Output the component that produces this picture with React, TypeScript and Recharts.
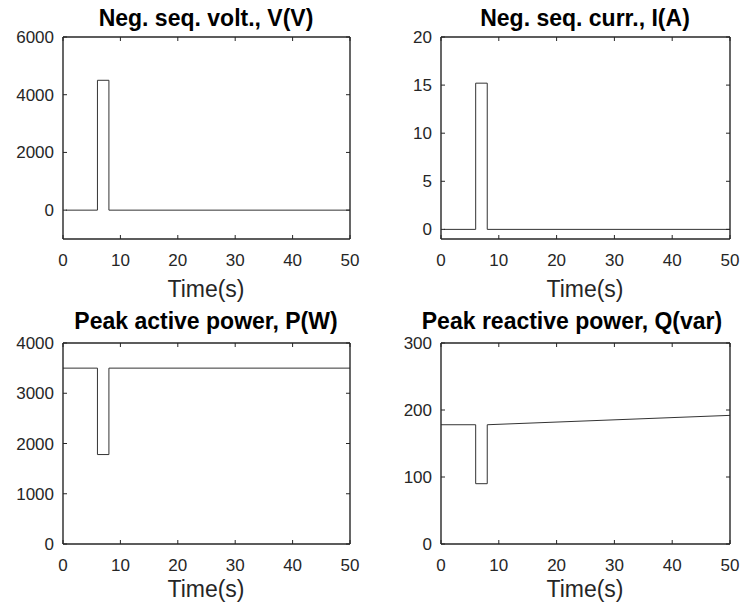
import { LineChart, Line, XAxis, YAxis } from 'recharts'

const timeTicks = [0, 10, 20, 30, 40, 50]

const voltTime = [0.5, 6, 6, 8, 8, 50]
const voltValues = [0, 0, 4500, 4500, 0, 0]
const voltTicks = [0, 2000, 4000, 6000]

const currTime = [0.5, 6, 6, 8, 8, 50]
const currValues = [0, 0, 15.2, 15.2, 0, 0]
const currTicks = [0, 5, 10, 15, 20]

const activeTime = [0, 6, 6, 8, 8, 50]
const activeValues = [3500, 3500, 1780, 1780, 3500, 3500]
const activeTicks = [0, 1000, 2000, 3000, 4000]

const reactiveTime = [0, 6, 6, 8, 8, 50]
const reactiveValues = [178, 178, 90, 90, 178, 192]
const reactiveTicks = [0, 100, 200, 300]

const FONT = '"Liberation Sans", Arial, Helvetica, sans-serif'
const INK = '#262626'
const TICK_LEN = 4
const X_GAP = 15
const Y_GAP = 9
const TICK_FONT = 17

// ticks drawn by hand so the marks point into the box, MATLAB style
const BottomTick = (props: any) => {
  const { x, y, payload } = props
  const axisY = y - X_GAP
  return (
    <g>
      <line x1={x} x2={x} y1={axisY} y2={axisY - TICK_LEN} stroke={INK} strokeWidth={1} />
      <text x={x} y={y} dy="0.71em" textAnchor="middle" fill={INK} fontSize={TICK_FONT} fontFamily={FONT}>
        {payload.value}
      </text>
    </g>
  )
}

const LeftTick = (props: any) => {
  const { x, y, payload } = props
  const axisX = x + Y_GAP
  return (
    <g>
      <line x1={axisX} x2={axisX + TICK_LEN} y1={y} y2={y} stroke={INK} strokeWidth={1} />
      <text x={x} y={y} dy="0.355em" textAnchor="end" fill={INK} fontSize={TICK_FONT} fontFamily={FONT}>
        {payload.value}
      </text>
    </g>
  )
}

const TopTick = (props: any) => {
  const { x, y } = props
  return <line x1={x} x2={x} y1={y} y2={y + TICK_LEN} stroke={INK} strokeWidth={1} />
}

const RightTick = (props: any) => {
  const { x, y } = props
  return <line x1={x - TICK_LEN} x2={x} y1={y} y2={y} stroke={INK} strokeWidth={1} />
}

interface PanelProps {
  left: number
  top: number
  boxW: number
  boxH: number
  time: number[]
  values: number[]
  yDomain: [number, number]
  yTicks: number[]
}

function Panel({ left, top, boxW, boxH, time, values, yDomain, yTicks }: PanelProps) {
  const data = time.map((t, i) => ({ t, v: values[i] }))
  const axisLine = { stroke: INK, strokeWidth: 1.4 }
  return (
    <div style={{ position: 'absolute', left: left - 63, top: top - 37 }}>
      <LineChart
        width={boxW + 63 + 20}
        height={boxH + 37 + 61}
        data={data}
        margin={{ top: 36, right: 19, bottom: 11, left: 13 }}
      >
        <XAxis
          dataKey="t"
          type="number"
          domain={[0, 50]}
          ticks={timeTicks}
          allowDataOverflow
          interval={0}
          height={50}
          tickSize={0}
          tickMargin={X_GAP}
          tick={BottomTick}
          axisLine={axisLine}
          tickLine={false}
        />
        <XAxis
          xAxisId="top"
          orientation="top"
          dataKey="t"
          type="number"
          domain={[0, 50]}
          ticks={timeTicks}
          allowDataOverflow
          interval={0}
          height={1}
          tickSize={0}
          tickMargin={0}
          tick={TopTick}
          axisLine={axisLine}
          tickLine={false}
        />
        <YAxis
          type="number"
          domain={yDomain}
          ticks={yTicks}
          allowDataOverflow
          interval={0}
          width={50}
          tickSize={0}
          tickMargin={Y_GAP}
          tick={LeftTick}
          axisLine={axisLine}
          tickLine={false}
        />
        <YAxis
          yAxisId="right"
          orientation="right"
          type="number"
          domain={yDomain}
          ticks={yTicks}
          allowDataOverflow
          interval={0}
          width={1}
          tickSize={0}
          tickMargin={0}
          tick={RightTick}
          axisLine={axisLine}
          tickLine={false}
        />
        <Line
          xAxisId="top"
          yAxisId="right"
          dataKey="v"
          type="linear"
          stroke="none"
          dot={false}
          legendType="none"
          isAnimationActive={false}
        />
        <Line
          dataKey="v"
          type="linear"
          stroke="#333333"
          strokeWidth={1}
          dot={false}
          isAnimationActive={false}
        />
      </LineChart>
    </div>
  )
}

export default function App() {
  return (
    <div
      style={{
        position: 'absolute',
        left: 0,
        top: 0,
        width: 741,
        height: 611,
        background: '#ffffff',
        overflow: 'hidden',
      }}
    >
      <Panel left={63} top={37} boxW={287} boxH={202} time={voltTime} values={voltValues} yDomain={[-1000, 6000]} yTicks={voltTicks} />
      <Panel left={441} top={37} boxW={289} boxH={202} time={currTime} values={currValues} yDomain={[-1, 20]} yTicks={currTicks} />
      <Panel left={63} top={343} boxW={287} boxH={201} time={activeTime} values={activeValues} yDomain={[0, 4000]} yTicks={activeTicks} />
      <Panel left={441} top={343} boxW={289} boxH={201} time={reactiveTime} values={reactiveValues} yDomain={[0, 300]} yTicks={reactiveTicks} />
      <svg
        width={741}
        height={611}
        style={{ position: 'absolute', left: 0, top: 0, pointerEvents: 'none' }}
        fontFamily={FONT}
        fill="#000"
      >
        <g fontWeight="bold" fontSize={23} textAnchor="middle">
          <text x={206} y={26}>Neg. seq. volt., V(V)</text>
          <text x={585} y={26}>Neg. seq. curr., I(A)</text>
          <text x={206} y={329}>Peak active power, P(W)</text>
          <text x={572} y={329}>Peak reactive power, Q(var)</text>
        </g>
        <g fontSize={23} textAnchor="middle" fill={INK}>
          <text x={206} y={297}>Time(s)</text>
          <text x={585} y={297}>Time(s)</text>
          <text x={206} y={597}>Time(s)</text>
          <text x={585} y={597}>Time(s)</text>
        </g>
      </svg>
    </div>
  )
}
